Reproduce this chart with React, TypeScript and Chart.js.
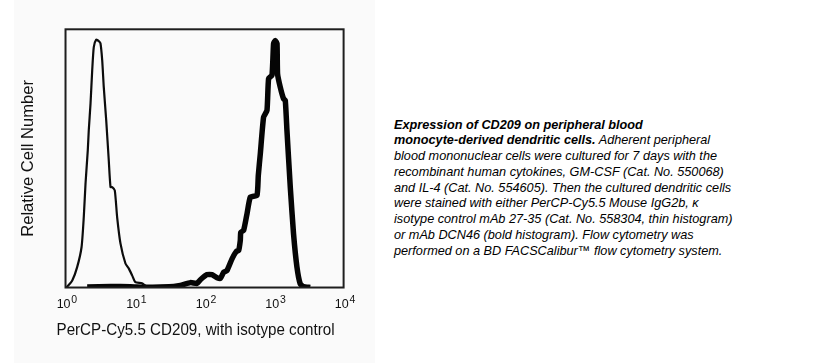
import React, { useEffect, useRef } from 'react';
import { Chart, registerables } from 'chart.js';

Chart.register(...registerables);

const FONT = '"Liberation Sans", Arial, Helvetica, sans-serif';

// X axis: fluorescence intensity (log decades)
const xTickValues = [1, 10, 100, 1000, 10000];
const xTickBase = '10';
const xTickExponents = ['0', '1', '2', '3', '4'];

const xAxisTitle = 'PerCP-Cy5.5 CD209, with isotype control';
const yAxisTitle = 'Relative Cell Number';

// Thin histogram: isotype control
const isotypeIntensity = [
  1.0, 1.06, 1.25, 1.47, 1.7, 1.83, 1.94, 2.09, 2.16, 2.29, 2.42, 2.55, 2.76, 2.98,
  3.18, 3.37, 3.55, 3.85, 4.19, 4.44, 4.69, 5.11, 5.53, 6.17, 7.28, 8.11, 9.08, 10.1,
  12.6, 14.8, 19.5, 40,
];
const isotypeCount = [
  0, 0.4, 2.7, 7.9, 15.6, 27.2, 40.3, 53.1, 60.9, 71.3, 84.1, 93.1, 96.0, 95.5,
  94.6, 88.0, 77.6, 64.7, 49.2, 38.9, 38.9, 37.6, 27.2, 17.1, 9.3, 7.4, 4.7, 2.1,
  1.6, 0.4, 0.1, 0,
];

// Bold histogram: mAb DCN46 (CD209)
const cd209Intensity = [
  2.05, 4.44, 8.59, 14.9, 23.2, 36.0, 44.9, 62.5, 78.0, 87.1, 108.6, 128.2, 151.4,
  168.7, 187.9, 210.4, 248.3, 286.4, 309.0, 326.6, 331.9, 364.8, 408.3, 455.0, 567.5,
  592.9, 633.9, 706.3, 790.7, 833.7, 933.3, 984.0, 1040, 1102, 1122, 1227, 1368, 1449,
  1531, 1710, 1905, 2133, 2377, 2630, 3311,
];
const cd209Count = [
  0.2, 0.4, 0.3, 0.1, 0.2, 0.4, 0.8, 1.9, 1.6, 3.0, 5.0, 5.0, 3.8,
  3.5, 5.9, 6.6, 11.1, 14.0, 14.3, 18.2, 21.4, 22.1, 28.6, 35.0, 35.7,
  43.4, 51.8, 66.0, 68.6, 80.9, 82.2, 94.5, 95.7, 94.5, 82.8, 77.6, 73.1, 72.5,
  60.9, 38.9, 20.8, 7.9, 1.4, 0.4, 0,
];

const captionLines: { bold?: string; text?: string }[] = [
  { bold: 'Expression of CD209 on peripheral blood' },
  { bold: 'monocyte-derived dendritic cells.', text: ' Adherent peripheral' },
  { text: 'blood mononuclear cells were cultured for 7 days with the' },
  { text: 'recombinant human cytokines, GM-CSF (Cat. No. 550068)' },
  { text: 'and IL-4 (Cat. No. 554605). Then the cultured dendritic cells' },
  { text: 'were stained with either PerCP-Cy5.5 Mouse IgG2b, \u03ba' },
  { text: 'isotype control mAb 27-35 (Cat. No. 558304, thin histogram)' },
  { text: 'or mAb DCN46 (bold histogram). Flow cytometry was' },
  { text: 'performed on a BD FACSCalibur\u2122 flow cytometry system.' },
];

const zip = (xs: number[], ys: number[]) => xs.map((x, i) => ({ x, y: ys[i] }));

const boxPlugin = {
  id: 'plotBox',
  beforeDraw(chart: any) {
    const s = chart.scales.x;
    if (s && !s.__shifted) {
      const orig = s.drawTitle;
      s.drawTitle = function (...args: any[]) {
        const ctx = this.ctx;
        ctx.save();
        ctx.translate(-9, 0);
        orig.apply(this, args);
        ctx.restore();
      };
      s.__shifted = true;
    }
  },
  afterDatasetsDraw(chart: any) {
    const { ctx, chartArea: a } = chart;
    ctx.save();
    ctx.strokeStyle = '#1e1e1e';
    ctx.lineWidth = 2;
    ctx.strokeRect(a.left, a.top, a.right - a.left, a.bottom - a.top);
    ctx.restore();
  },
  afterDraw(chart: any) {
    const { ctx, chartArea: a } = chart;
    const s = chart.scales.x;
    const y = a.bottom + 20;
    ctx.save();
    ctx.fillStyle = '#111';
    ctx.textAlign = 'left';
    ctx.textBaseline = 'alphabetic';
    xTickValues.forEach((v, i) => {
      const px = s.getPixelForValue(v);
      const exp = xTickExponents[i];
      ctx.font = `12.5px ${FONT}`;
      const bw = ctx.measureText(xTickBase).width;
      ctx.font = `10.5px ${FONT}`;
      const ew = ctx.measureText(exp).width;
      const start = px - (bw + ew) / 2 + 1;
      ctx.font = `12.5px ${FONT}`;
      ctx.fillText(xTickBase, start, y);
      ctx.font = `10.5px ${FONT}`;
      ctx.fillText(exp, start + bw + 0.8, y - 4.5);
    });
    ctx.restore();
  },
};

function HistogramChart() {
  const ref = useRef<HTMLCanvasElement | null>(null);
  useEffect(() => {
    if (!ref.current) return;
    const chart = new Chart(ref.current, {
      type: 'line',
      data: {
        datasets: [
          {
            label: 'Isotype control',
            data: zip(isotypeIntensity, isotypeCount),
            borderColor: '#0c0c0c',
            borderWidth: 2.2,
            pointRadius: 0,
            tension: 0.2,
            fill: false,
          },
          {
            label: 'mAb DCN46',
            data: zip(cd209Intensity, cd209Count),
            borderColor: '#050505',
            borderWidth: 5.5,
            pointRadius: 0,
            tension: 0.15,
            fill: false,
            borderJoinStyle: 'round',
          },
        ],
      },
      options: {
        responsive: false,
        maintainAspectRatio: false,
        animation: false,
        layout: { padding: { top: 29.3, right: 31.4, bottom: 0, left: 0 } },
        plugins: { legend: { display: false }, tooltip: { enabled: false } },
        scales: {
          x: {
            type: 'logarithmic',
            min: 1,
            max: 10000,
            afterBuildTicks: (s: any) => {
              s.ticks = xTickValues.map((v) => ({ value: v }));
            },
            grid: { display: false, drawTicks: false },
            border: { display: false },
            ticks: {
              color: 'rgba(0,0,0,0)',
              font: { family: FONT, size: 13 },
              padding: 3.5,
              maxRotation: 0,
              autoSkip: false,
              callback: (v: any) => {
                const i = xTickValues.indexOf(Number(v));
                return i >= 0 ? xTickBase + xTickExponents[i] : '';
              },
            },
            title: {
              display: true,
              text: xAxisTitle,
              color: '#111',
              font: { family: FONT, size: 16.4 },
              padding: { top: 10.2, bottom: 23 },
            },
          },
          y: {
            min: 0,
            max: 100,
            grid: { display: false, drawTicks: false },
            border: { display: false },
            ticks: { display: false },
            title: {
              display: true,
              text: yAxisTitle,
              color: '#111',
              font: { family: FONT, size: 16.6 },
              padding: { top: 4.2, bottom: 27.4 },
            },
          },
        },
      } as any,
      plugins: [boxPlugin],
    });
    return () => chart.destroy();
  }, []);
  return <canvas ref={ref} width={361} height={363} style={{ width: 361, height: 363, display: 'block' }} />;
}

export default function App() {
  return (
    <div style={{ position: 'fixed', left: 0, top: 0, width: 828, height: 363, background: '#fff', overflow: 'hidden' }}>
      <div style={{ position: 'absolute', left: 14, top: 0, width: 361, height: 363, background: '#fafafa' }}>
        <HistogramChart />
      </div>
      <div
        style={{
          position: 'absolute',
          left: 394,
          top: 117.5,
          fontFamily: FONT,
          fontStyle: 'italic',
          fontSize: '12.7px',
          lineHeight: '15.8px',
          color: '#000',
          whiteSpace: 'nowrap',
        }}
      >
        {captionLines.map((l, i) => (
          <div key={i}>
            {l.bold ? <b>{l.bold}</b> : null}
            {l.text ?? null}
          </div>
        ))}
      </div>
    </div>
  );
}
